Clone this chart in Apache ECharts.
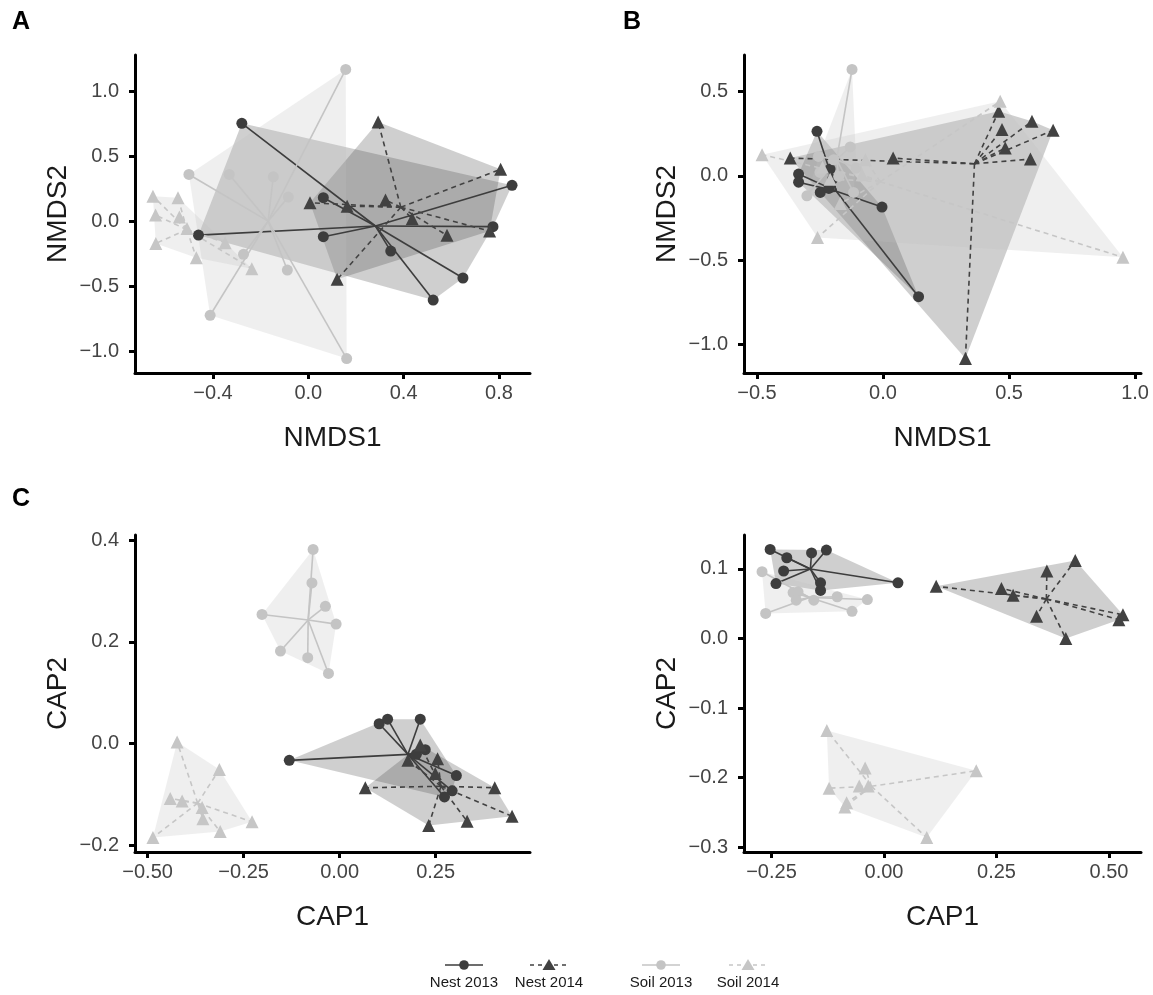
<!DOCTYPE html>
<html>
<head>
<meta charset="utf-8">
<script src="https://cdn.jsdelivr.net/npm/echarts@6/dist/echarts.min.js"></script>
<style>
  html, body { margin: 0; padding: 0; background: #fff; }
  #chart { width: 1153px; height: 995px; }
</style>
</head>
<body>
<div id="chart"></div>
<script>
// ---------- Panel A: NMDS ----------
const nmdsA_nest2013 = [[-0.279,0.752],[0.855,0.275],[0.775,-0.043],[0.649,-0.438],[0.524,-0.608],[0.346,-0.231],[0.063,0.18],[0.063,-0.12],[-0.461,-0.108]];
const nmdsA_nest2014 = [[0.293,0.762],[0.807,0.398],[0.324,0.162],[0.007,0.141],[0.163,0.115],[0.436,0.018],[0.582,-0.11],[0.761,-0.077],[0.121,-0.448]];
const nmdsA_soil2013 = [[0.157,1.167],[-0.501,0.359],[-0.332,0.359],[-0.147,0.341],[-0.084,0.185],[-0.272,-0.256],[-0.088,-0.377],[-0.412,-0.725],[0.161,-1.058]];
const nmdsA_soil2014 = [[-0.652,0.192],[-0.547,0.18],[-0.641,0.046],[-0.541,0.031],[-0.509,-0.058],[-0.64,-0.172],[-0.47,-0.282],[-0.349,-0.166],[-0.237,-0.366]];

// ---------- Panel B: NMDS ----------
const nmdsB_nest2013 = [[-0.262,0.264],[-0.335,0.01],[-0.335,-0.038],[-0.249,-0.099],[-0.004,-0.186],[0.141,-0.718],[-0.21,0.04],[-0.2,-0.02],[-0.215,-0.075]];
const nmdsB_nest2014 = [[-0.368,0.105],[0.04,0.105],[0.459,0.383],[0.472,0.274],[0.485,0.165],[0.591,0.323],[0.675,0.27],[0.585,0.099],[0.327,-1.085]];
const nmdsB_soil2013 = [[-0.123,0.631],[-0.13,0.171],[-0.106,0.046],[-0.302,-0.119],[-0.256,0.115],[-0.117,-0.099],[-0.176,-0.004],[-0.25,0.02],[-0.196,0.095]];
const nmdsB_soil2014 = [[-0.48,0.125],[0.465,0.442],[0.952,-0.484],[-0.26,-0.367],[-0.07,0.095],[-0.083,0.006],[-0.17,-0.165],[-0.24,0.05],[-0.21,-0.02]];

// ---------- Panel C: CAP ----------
const capC_nest2013 = [[-0.131,-0.033],[0.103,0.039],[0.125,0.048],[0.21,0.048],[0.2,-0.021],[0.223,-0.012],[0.304,-0.063],[0.293,-0.093],[0.273,-0.105]];
const capC_nest2014 = [[0.067,-0.087],[0.404,-0.087],[0.449,-0.143],[0.232,-0.161],[0.332,-0.153],[0.178,-0.033],[0.21,-0.003],[0.255,-0.03],[0.249,-0.059]];
const capC_soil2013 = [[-0.069,0.382],[-0.072,0.316],[-0.037,0.27],[-0.202,0.254],[-0.009,0.235],[-0.154,0.182],[-0.083,0.169],[-0.029,0.138]];
const capC_soil2014 = [[-0.423,0.003],[-0.313,-0.051],[-0.441,-0.108],[-0.41,-0.113],[-0.358,-0.126],[-0.356,-0.148],[-0.228,-0.154],[-0.311,-0.173],[-0.486,-0.185]];

// ---------- Panel D: CAP ----------
const capD_nest2013 = [[-0.253,0.128],[-0.216,0.116],[-0.161,0.123],[-0.128,0.127],[-0.223,0.097],[-0.24,0.079],[-0.141,0.08],[0.031,0.08],[-0.141,0.069]];
const capD_nest2014 = [[0.116,0.075],[0.261,0.072],[0.287,0.062],[0.362,0.097],[0.425,0.112],[0.339,0.032],[0.404,0.0],[0.531,0.034],[0.522,0.027]];
const capD_soil2013 = [[-0.271,0.096],[-0.263,0.036],[-0.202,0.066],[-0.191,0.067],[-0.195,0.055],[-0.156,0.055],[-0.104,0.06],[-0.037,0.056],[-0.071,0.039]];
const capD_soil2014 = [[-0.127,-0.132],[-0.042,-0.186],[-0.122,-0.215],[-0.055,-0.212],[-0.035,-0.212],[-0.083,-0.236],[-0.087,-0.242],[0.095,-0.286],[0.205,-0.19]];

// ---------- Tick values ----------
const ticksA_x = [-0.4, 0.0, 0.4, 0.8];
const ticksA_y = [-1.0, -0.5, 0.0, 0.5, 1.0];
const ticksB_x = [-0.5, 0.0, 0.5, 1.0];
const ticksB_y = [-1.0, -0.5, 0.0, 0.5];
const ticksC_x = [-0.5, -0.25, 0.0, 0.25];
const ticksC_y = [-0.2, 0.0, 0.2, 0.4];
const ticksD_x = [-0.25, 0.0, 0.25, 0.5];
const ticksD_y = [-0.3, -0.2, -0.1, 0.0, 0.1];

const groupNames = ['Nest 2013', 'Nest 2014', 'Soil 2013', 'Soil 2014'];

const FONT = '"Liberation Sans", Arial, Helvetica, sans-serif';

const groupStyle = [
  { color: '#3d3d3d', symbol: 'circle',   size: 11, dash: null,   fill: 'rgba(64,64,64,0.25)' },
  { color: '#424242', symbol: 'triangle', size: 13, dash: [5, 4], fill: 'rgba(64,64,64,0.25)' },
  { color: '#c4c4c4', symbol: 'circle',   size: 11, dash: null,   fill: 'rgba(190,190,190,0.25)' },
  { color: '#c6c6c6', symbol: 'triangle', size: 13, dash: [5, 4], fill: 'rgba(190,190,190,0.25)' }
];

const panels = [
  { letter: 'A', groups: [nmdsA_nest2013, nmdsA_nest2014, nmdsA_soil2013, nmdsA_soil2014],
    xName: 'NMDS1', yName: 'NMDS2', xTicks: ticksA_x, yTicks: ticksA_y, xDec: 1, yDec: 1,
    grid: { left: 135, top: 55, width: 395, height: 318 } },
  { letter: 'B', groups: [nmdsB_nest2013, nmdsB_nest2014, nmdsB_soil2013, nmdsB_soil2014],
    xName: 'NMDS1', yName: 'NMDS2', xTicks: ticksB_x, yTicks: ticksB_y, xDec: 1, yDec: 1,
    grid: { left: 744, top: 55, width: 397, height: 318 } },
  { letter: 'C', groups: [capC_nest2013, capC_nest2014, capC_soil2013, capC_soil2014],
    xName: 'CAP1', yName: 'CAP2', xTicks: ticksC_x, yTicks: ticksC_y, xDec: 2, yDec: 1,
    grid: { left: 135, top: 535, width: 395, height: 317 } },
  { letter: '', groups: [capD_nest2013, capD_nest2014, capD_soil2013, capD_soil2014],
    xName: 'CAP1', yName: 'CAP2', xTicks: ticksD_x, yTicks: ticksD_y, xDec: 2, yDec: 1,
    grid: { left: 744, top: 535, width: 397, height: 317 } }
];

// Monotone-chain convex hull
function convexHull(pts) {
  const p = pts.slice().sort((a, b) => a[0] - b[0] || a[1] - b[1]);
  const cross = (o, a, b) => (a[0] - o[0]) * (b[1] - o[1]) - (a[1] - o[1]) * (b[0] - o[0]);
  const lower = [];
  for (const q of p) {
    while (lower.length >= 2 && cross(lower[lower.length - 2], lower[lower.length - 1], q) <= 0) lower.pop();
    lower.push(q);
  }
  const upper = [];
  for (let i = p.length - 1; i >= 0; i--) {
    const q = p[i];
    while (upper.length >= 2 && cross(upper[upper.length - 2], upper[upper.length - 1], q) <= 0) upper.pop();
    upper.push(q);
  }
  upper.pop(); lower.pop();
  return lower.concat(upper);
}

function centroidOf(pts) {
  let sx = 0, sy = 0;
  pts.forEach(q => { sx += q[0]; sy += q[1]; });
  return [sx / pts.length, sy / pts.length];
}

// Axis extents padded by 5% of the data range on each side
function extentOf(groups, k) {
  let lo = Infinity, hi = -Infinity;
  groups.forEach(g => g.forEach(q => { lo = Math.min(lo, q[k]); hi = Math.max(hi, q[k]); }));
  const pad = (hi - lo) * 0.05;
  return [lo - pad, hi + pad];
}

function fmt(v, d) {
  const s = Math.abs(v) < 1e-9 ? (0).toFixed(d) : v.toFixed(d);
  return s.replace('-', '\u2212');
}

const grids = [], xAxes = [], yAxes = [];
const hullSeries = [], spiderSeries = [], pointSeries = [];

panels.forEach((p, pi) => {
  grids.push(Object.assign({ containLabel: false }, p.grid));
  const ex = extentOf(p.groups, 0), ey = extentOf(p.groups, 1);
  const axisCommon = {
    type: 'value',
    gridIndex: pi,
    nameLocation: 'middle',
    nameTextStyle: { fontSize: 28, color: '#1a1a1a', fontFamily: FONT },
    axisLine: { show: true, onZero: false, lineStyle: { color: '#000', width: 3 } },
    splitLine: { show: false }
  };
  xAxes.push(Object.assign({}, axisCommon, {
    min: ex[0], max: ex[1], name: p.xName, nameGap: 51,
    axisTick: { show: true, length: 6, lineStyle: { color: '#000', width: 3 }, customValues: p.xTicks },
    axisLabel: { customValues: p.xTicks, formatter: v => fmt(v, p.xDec), fontSize: 20, color: '#444', fontFamily: FONT, margin: 10 }
  }));
  yAxes.push(Object.assign({}, axisCommon, {
    min: ey[0], max: ey[1], name: p.yName, nameGap: 63,
    axisTick: { show: true, length: 6, lineStyle: { color: '#000', width: 3 }, customValues: p.yTicks },
    axisLabel: { customValues: p.yTicks, formatter: v => fmt(v, p.yDec), fontSize: 20, color: '#444', fontFamily: FONT, margin: 16 }
  }));

  p.groups.forEach((pts, gi) => {
    const st = groupStyle[gi];
    const hull = convexHull(pts);
    const c = centroidOf(pts);
    hullSeries.push({
      type: 'custom', name: groupNames[gi], xAxisIndex: pi, yAxisIndex: pi, silent: true, z: 1,
      data: [c],
      renderItem: (params, api) => ({
        type: 'polygon',
        shape: { points: hull.map(q => api.coord(q)) },
        style: { fill: st.fill }
      })
    });
    spiderSeries.push({
      type: 'custom', name: groupNames[gi], xAxisIndex: pi, yAxisIndex: pi, silent: true, z: 2,
      data: pts,
      renderItem: (params, api) => {
        const a = api.coord(c);
        const b = api.coord([api.value(0), api.value(1)]);
        return {
          type: 'line',
          shape: { x1: a[0], y1: a[1], x2: b[0], y2: b[1] },
          style: { stroke: st.color, lineWidth: 1.6, lineDash: st.dash }
        };
      }
    });
    pointSeries.push({
      type: 'scatter', name: groupNames[gi], xAxisIndex: pi, yAxisIndex: pi, z: 3,
      data: pts, symbol: st.symbol, symbolSize: st.size,
      itemStyle: { color: st.color, opacity: 1 },
      emphasis: { disabled: true }
    });
  });
});

// Panel letters and legend drawn as graphic elements
const graphics = [];
[['A', 12, 10], ['B', 623, 10], ['C', 12, 487]].forEach(([t, x, y]) => {
  graphics.push({ type: 'text', x: x, y: y, style: { text: t, font: 'bold 25px ' + FONT, fill: '#000' } });
});

const legendX = [464, 549, 661, 748];
const legendY = 965;
groupNames.forEach((name, i) => {
  const st = groupStyle[i];
  const cx = legendX[i];
  graphics.push({ type: 'line', shape: { x1: cx - 19, y1: legendY, x2: cx + 19, y2: legendY },
    style: { stroke: st.color, lineWidth: 1.5, lineDash: st.dash ? [4, 4] : null } });
  if (st.symbol === 'circle') {
    graphics.push({ type: 'circle', shape: { cx: cx, cy: legendY, r: 4.8 }, style: { fill: st.color } });
  } else {
    graphics.push({ type: 'polygon', shape: { points: [[cx, legendY - 6], [cx - 6.5, legendY + 5], [cx + 6.5, legendY + 5]] }, style: { fill: st.color } });
  }
  graphics.push({ type: 'text', x: cx, y: legendY + 18,
    style: { text: name, font: '15px ' + FONT, fill: '#1a1a1a', align: 'center', verticalAlign: 'middle', textAlign: 'center', textVerticalAlign: 'middle' } });
});

const chart = echarts.init(document.getElementById('chart'), null, { renderer: 'canvas' });
chart.setOption({
  backgroundColor: '#fff',
  animation: false,
  grid: grids,
  xAxis: xAxes,
  yAxis: yAxes,
  graphic: graphics,
  series: hullSeries.concat(spiderSeries, pointSeries)
});
</script>
</body>
</html>
